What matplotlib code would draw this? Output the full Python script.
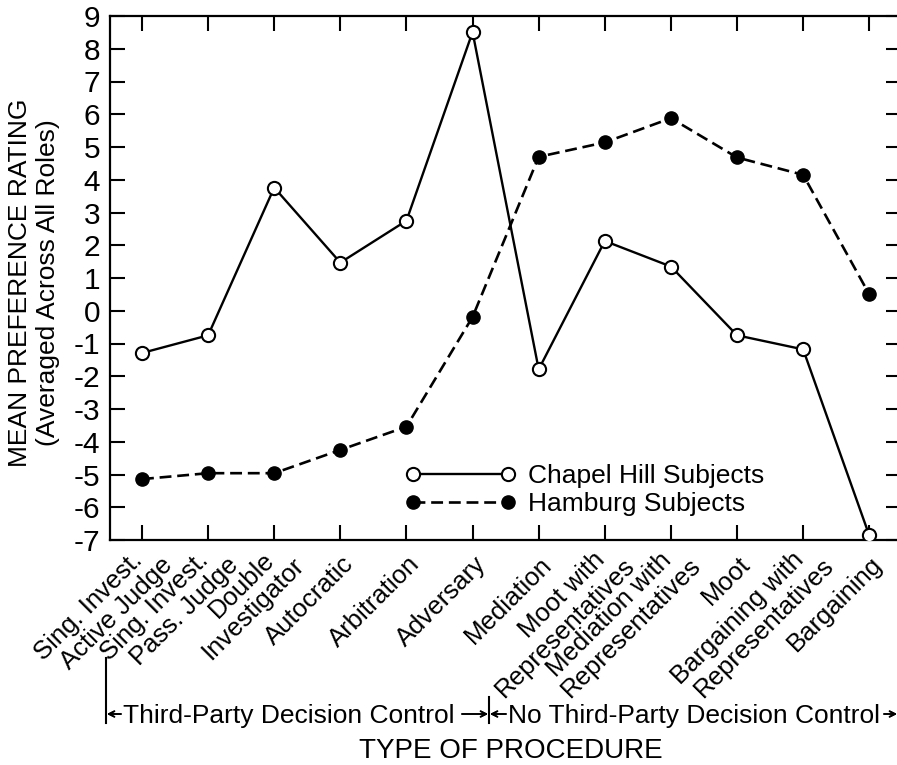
import numpy as np
import matplotlib
matplotlib.use("Agg")
import matplotlib.pyplot as plt
from matplotlib.lines import Line2D


# DATA
CATEGORIES = [
    ["Sing. Invest.", "Active Judge"],
    ["Sing. Invest.", "Pass. Judge"],
    ["Double", "Investigator"],
    ["Autocratic"],
    ["Arbitration"],
    ["Adversary"],
    ["Mediation"],
    ["Moot with", "Representatives"],
    ["Mediation with", "Representatives"],
    ["Moot"],
    ["Bargaining with", "Representatives"],
    ["Bargaining"],
]
CHAPEL_HILL = [-1.29, -0.75, 3.76, 1.47, 2.75, 8.51, -1.79, 2.13, 1.35, -0.75, -1.18, -6.86]
HAMBURG = [-5.14, -4.96, -4.96, -4.25, -3.54, -0.19, 4.70, 5.14, 5.88, 4.68, 4.15, 0.50]
Y_TICKS = list(range(-7, 10))

W, H = 897, 765
FONT = ["Liberation Sans", "DejaVu Sans"]
plt.rcParams["font.family"] = FONT
plt.rcParams["axes.unicode_minus"] = False


# pixel position (from top left) to figure fraction
def px(x, y):
    return x / W, 1 - y / H


fig = plt.figure(figsize=(W / 100, H / 100), dpi=100)
ax = fig.add_axes([110 / W, 1 - 540 / H, (901 - 110) / W, (540 - 16) / H])

x = np.arange(len(CATEGORIES))
ax.plot(x, CHAPEL_HILL, color="black", lw=1.7, marker="o", ms=9.5,
        mfc="white", mec="black", mew=1.5, label="Chapel Hill Subjects", zorder=3)
ax.plot(x, HAMBURG, color="black", lw=1.9, dashes=(4.5, 2.2), marker="o", ms=9.5,
        mfc="black", mec="black", label="Hamburg Subjects", zorder=3)

ax.set_xlim(-0.484, 11.48)
ax.set_ylim(-7, 9)
ax.set_yticks(Y_TICKS)
ax.set_yticklabels([str(v) for v in Y_TICKS], fontsize=21.5)
ax.set_xticks(x)
ax.set_xticklabels([])
ax.tick_params(axis="both", direction="in", length=11, width=1.5)
ax.tick_params(axis="x", top=True)
ax.tick_params(axis="y", right=True, pad=7)
for s in ax.spines.values():
    s.set_linewidth(1.6)

# rotated category labels, each line placed on its own
for i, lines in enumerate(CATEGORIES):
    if len(lines) == 1:
        offs = [(1, -12)]
    else:
        offs = [(-12, -8), (18, -13)]
    for line, (dx, dy) in zip(lines, offs):
        ax.annotate(line, xy=(i, 0), xycoords=("data", "axes fraction"),
                    xytext=(dx, dy), textcoords="offset pixels",
                    rotation=45, rotation_mode="anchor", ha="right", va="top",
                    fontsize=18.5)

leg = ax.legend(loc="center left", bbox_to_anchor=px(405, 490),
                bbox_transform=fig.transFigure, frameon=False, fontsize=19,
                numpoints=2, handlelength=4.2, handletextpad=0.45,
                labelspacing=0.14, borderpad=0, borderaxespad=0)

# y label
fig.text(*px(34, 283), "MEAN PREFERENCE RATING\n(Averaged Across All Roles)",
         rotation=90, ha="center", va="center", fontsize=19, linespacing=1.2)

# decision control bracket
fig.add_artist(Line2D(*zip(px(106, 658), px(106, 723)), color="black", lw=1.5))
fig.add_artist(Line2D(*zip(px(489, 697), px(489, 723)), color="black", lw=1.5))
arrow = dict(arrowstyle="->", color="black", lw=1.2, shrinkA=0, shrinkB=0)
for a, b in [((121, 714), (107, 714)), ((462, 714), (488, 714)),
             ((506, 714), (490, 714)), ((884, 714), (897, 714))]:
    fig.add_artist(plt.annotate("", xy=px(*b), xycoords="figure fraction",
                                xytext=px(*a), textcoords="figure fraction",
                                arrowprops=arrow))
fig.text(*px(123, 723), "Third-Party Decision Control", ha="left",
         va="baseline", fontsize=19)
fig.text(*px(508, 723), "No Third-Party Decision Control", ha="left",
         va="baseline", fontsize=19)

fig.text(*px(511, 758), "TYPE OF PROCEDURE", ha="center", va="baseline",
         fontsize=20)

fig.savefig("out.png", dpi=100)
